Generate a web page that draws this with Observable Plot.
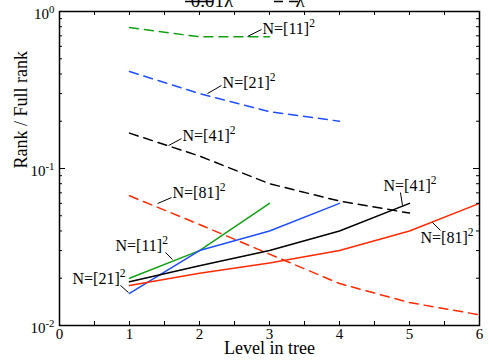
<!DOCTYPE html>
<html><head><meta charset="utf-8">
<script src="https://cdn.jsdelivr.net/npm/d3@7"></script>
<script src="https://cdn.jsdelivr.net/npm/@observablehq/plot@0.6"></script>
<style>body{margin:0;background:#fff} svg{display:block}</style>
</head><body><div id="chart"></div>
<script>
// Series: grid size N, colour, levels, rank ratios (solid = 0.01λ, dashed = λ)
const sizes = ["11", "21", "41", "81"];
const colors = ["#14a014", "#1f4fff", "#000000", "#ff2a00"];
const levels = [1, 2, 3, 4, 5, 6];

const tol001_N11 = [0.020, 0.030, 0.060];
const tol001_N21 = [0.016, 0.030, 0.040, 0.060];
const tol001_N41 = [0.019, 0.024, 0.030, 0.040, 0.060];
const tol001_N81 = [0.018, 0.0215, 0.025, 0.030, 0.040, 0.060];

const tolL_N11 = [0.79, 0.69, 0.69];
const tolL_N21 = [0.415, 0.30, 0.23, 0.20];
const tolL_N41 = [0.168, 0.12, 0.080, 0.062, 0.052];
const tolL_N81 = [0.067, 0.044, 0.0285, 0.0185, 0.014, 0.0117];

const xTickLabels = [0, 1, 2, 3, 4, 5, 6];
const xTickMarks = [0, 0.5, 1, 1.5, 2, 2.5, 3, 3.5, 4, 4.5, 5, 5.5, 6];
const yMajor = [0.01, 0.1, 1];
const yMajorLabels = ["10^-2", "10^-1", "10^0"];
const yMinor = [0.02, 0.03, 0.04, 0.05, 0.06, 0.07, 0.08, 0.09, 0.2, 0.3, 0.4, 0.5, 0.6, 0.7, 0.8, 0.9];
const legendLabels = ["0.01λ", "λ"];

// Annotations: label position and leader line (data coordinates)
const annLabel = ["N=[11]^2", "N=[21]^2", "N=[41]^2", "N=[81]^2", "N=[41]^2", "N=[81]^2", "N=[11]^2", "N=[21]^2"];
const annX = [2.90, 2.33, 1.757, 1.614, 4.629, 5.157, 0.80, 0.186];
const annY = [0.779, 0.353, 0.162, 0.0703, 0.078, 0.0364, 0.0323, 0.0199];
const leadX1 = [2.686, 2.114, 1.557, 1.40, 4.90, 5.329, 1.514, 0.871];
const leadY1 = [0.693, 0.300, 0.140, 0.0598, 0.058, 0.0453, 0.0292, 0.018];
const leadX2 = [2.886, 2.314, 1.743, 1.60, 4.871, 5.443, 1.614, 0.986];
const leadY2 = [0.768, 0.338, 0.155, 0.0653, 0.0703, 0.0403, 0.0263, 0.0162];

function rows(vals, N) { return vals.map((v, i) => ({level: levels[i], value: v, N})); }
const solidRows = [
  ...rows(tol001_N11, "11"), ...rows(tol001_N21, "21"),
  ...rows(tol001_N41, "41"), ...rows(tol001_N81, "81")];
const dashedRows = [
  ...rows(tolL_N11, "11"), ...rows(tolL_N21, "21"),
  ...rows(tolL_N41, "41"), ...rows(tolL_N81, "81")];
const annots = annLabel.map((t, i) => ({t, x: annX[i], y: annY[i], x1: leadX1[i], y1: leadY1[i], x2: leadX2[i], y2: leadY2[i]}));

const W = 489, H = 364, mL = 59, mR = 10, mT = 11, mB = 39;
const innerW = W - mL - mR, innerH = H - mT - mB;

const chart = Plot.plot({
  width: W, height: H,
  marginLeft: mL, marginRight: mR, marginTop: mT, marginBottom: mB,
  style: {fontFamily: "Liberation Serif", fontSize: "15px", background: "white", color: "black"},
  x: {domain: [0, 6], axis: null},
  y: {type: "log", domain: [0.01, 1], axis: null},
  color: {domain: sizes, range: colors},
  marks: [
    Plot.line(dashedRows, {x: "level", y: "value", z: "N", stroke: "N", strokeWidth: 1.5, strokeDasharray: "9,6"}),
    Plot.line(solidRows, {x: "level", y: "value", z: "N", stroke: "N", strokeWidth: 1.5}),
    Plot.link(annots, {x1: "x1", y1: "y1", x2: "x2", y2: "y2", stroke: "black", strokeWidth: 1}),
    Plot.text(annots, {x: "x", y: "y", text: "t", textAnchor: "start", fontSize: 16, fill: "black"}),
    // ticks (inward)
    Plot.tickX(xTickMarks, {x: d => d, insetTop: innerH - 4, stroke: "black"}),
    Plot.tickX(xTickMarks, {x: d => d, insetBottom: innerH - 4, stroke: "black"}),
    Plot.tickY(yMinor, {y: d => d, insetRight: innerW - 3, stroke: "black"}),
    Plot.tickY(yMinor, {y: d => d, insetLeft: innerW - 3, stroke: "black"}),
    Plot.tickY(yMajor, {y: d => d, insetRight: innerW - 6, stroke: "black"}),
    Plot.tickY(yMajor, {y: d => d, insetLeft: innerW - 6, stroke: "black"}),
    Plot.frame({stroke: "black", strokeWidth: 1.5}),
    // tick labels
    Plot.text(xTickLabels, {x: d => d, frameAnchor: "bottom", lineAnchor: "top", dy: 3, text: d => String(d), fontSize: 15}),
    Plot.text(yMajor, {y: d => d, frameAnchor: "left", textAnchor: "end", dx: -5, dy: 3, text: (d, i) => yMajorLabels[i], fontSize: 15}),
    // axis titles
    Plot.text(["Level in tree"], {frameAnchor: "bottom", dy: 28, fontSize: 18}),
    Plot.text(["Rank / Full rank"], {frameAnchor: "left", dx: -38, rotate: -90, fontSize: 18})
  ]
});

const svg = d3.select(chart.tagName === "svg" ? chart : chart.querySelector("svg"));
// superscripts
svg.selectAll("text").each(function () {
  const t = this.textContent;
  const i = t.indexOf("^");
  if (i < 0) return;
  const s = d3.select(this);
  s.text(null);
  s.append("tspan").text(t.slice(0, i));
  s.append("tspan").attr("dy", "-0.6em").attr("font-size", "0.72em").text(t.slice(i + 1));
});
// legend at top (partially clipped, as in reference)
const lg = svg.append("g").attr("font-size", 19).attr("font-family", "Liberation Serif");
lg.append("line").attr("x1", 185).attr("x2", 212).attr("y1", 1.5).attr("y2", 1.5).attr("stroke", "black").attr("stroke-width", 1.5);
lg.append("text").attr("x", 212).attr("y", 7).text(legendLabels[0]);
lg.append("line").attr("x1", 274).attr("x2", 298).attr("y1", 1.5).attr("y2", 1.5).attr("stroke", "black").attr("stroke-width", 1.5).attr("stroke-dasharray", "9,6");
lg.append("text").attr("x", 300).attr("y", 7).text(legendLabels[1]);

document.getElementById("chart").appendChild(chart);
</script>
</body></html>
